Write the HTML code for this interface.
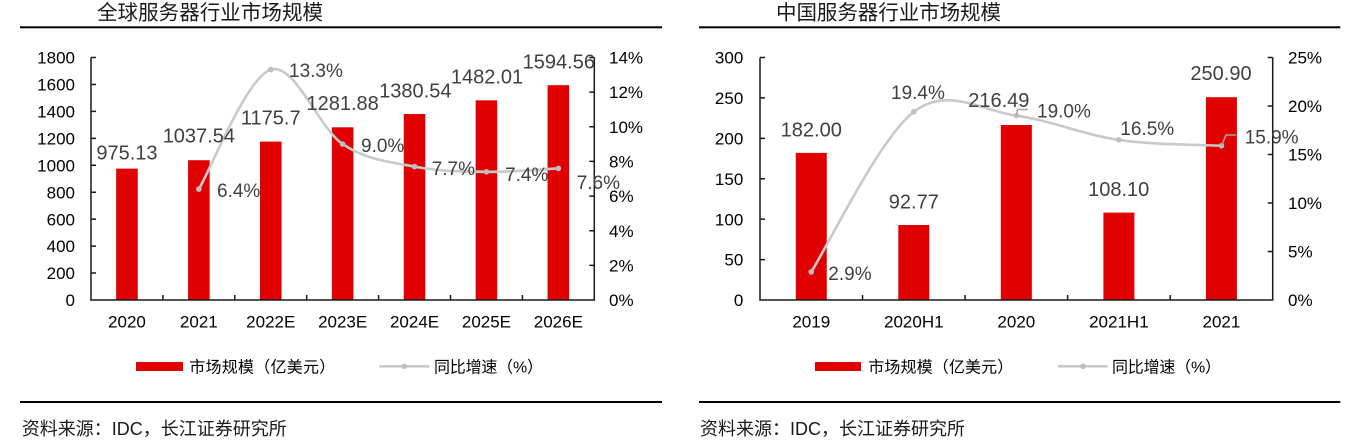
<!DOCTYPE html>
<html><head><meta charset="utf-8">
<style>
html,body{margin:0;padding:0;background:#fff;}
svg{display:block;}
text{font-family:"Liberation Sans","Noto Sans CJK SC",sans-serif;}
.ax{font-size:17px;fill:#000;}
.val{font-size:20px;fill:#404040;}
.pct{font-size:19px;fill:#404040;}
.cj{font-family:"Liberation Sans","Noto Sans CJK SC",sans-serif;text-spacing-trim:space-all;}
</style></head>
<body>
<svg width="1367" height="440" viewBox="0 0 1367 440" xmlns="http://www.w3.org/2000/svg">
<rect width="1367" height="440" fill="#fff"/>

<!-- ================= LEFT CHART ================= -->
<text x="97" y="19.6" font-size="20.5" fill="#1a1a1a" class="cj" textLength="226" lengthAdjust="spacing">全球服务器行业市场规模</text>
<rect x="20" y="26.3" width="642" height="2" fill="#000"/>

<!-- bars -->
<g fill="#E00000">
<rect x="116.15" y="168.63" width="21.6" height="131.37"/>
<rect x="188.05" y="160.22" width="21.6" height="139.78"/>
<rect x="259.95" y="141.61" width="21.6" height="158.39"/>
<rect x="331.85" y="127.30" width="21.6" height="172.70"/>
<rect x="403.75" y="114.01" width="21.6" height="185.99"/>
<rect x="475.65" y="100.34" width="21.6" height="199.66"/>
<rect x="547.55" y="85.17" width="21.6" height="214.83"/>
</g>

<!-- axes -->
<g stroke="#1a1a1a" stroke-width="1.5" fill="none">
<line x1="91" y1="57.5" x2="91" y2="300.5"/>
<line x1="594.3" y1="57.5" x2="594.3" y2="300.5"/>
<line x1="90.3" y1="300" x2="595" y2="300"/>
<path d="M91 273.06h5M91 246.11h5M91 219.17h5M91 192.22h5M91 165.28h5M91 138.33h5M91 111.39h5M91 84.44h5M91 57.5h5"/>
<path d="M589.3 265.36h5M589.3 230.71h5M589.3 196.07h5M589.3 161.43h5M589.3 126.79h5M589.3 92.14h5M589.3 57.5h5"/>
<path d="M162.9 295v5M234.8 295v5M306.7 295v5M378.6 295v5M450.5 295v5M522.4 295v5"/>
</g>

<!-- left axis labels -->
<g class="ax" text-anchor="end">
<text x="75" y="306.1">0</text>
<text x="75" y="279.2">200</text>
<text x="75" y="252.2">400</text>
<text x="75" y="225.3">600</text>
<text x="75" y="198.3">800</text>
<text x="75" y="171.4">1000</text>
<text x="75" y="144.4">1200</text>
<text x="75" y="117.5">1400</text>
<text x="75" y="90.5">1600</text>
<text x="75" y="63.6">1800</text>
</g>
<g class="ax">
<text x="609" y="306.1">0%</text>
<text x="609" y="271.5">2%</text>
<text x="609" y="236.8">4%</text>
<text x="609" y="202.2">6%</text>
<text x="609" y="167.5">8%</text>
<text x="609" y="132.9">10%</text>
<text x="609" y="98.2">12%</text>
<text x="609" y="63.6">14%</text>
</g>
<g class="ax" text-anchor="middle">
<text x="126.95" y="327.3">2020</text>
<text x="198.85" y="327.3">2021</text>
<text x="270.75" y="327.3">2022E</text>
<text x="342.65" y="327.3">2023E</text>
<text x="414.55" y="327.3">2024E</text>
<text x="486.45" y="327.3">2025E</text>
<text x="558.35" y="327.3">2026E</text>
</g>

<!-- line -->
<path d="M198.85 189.1 C210.83 169.18 246.78 77.1 270.75 69.6 C294.72 62.1 318.68 127.93 342.65 144.1 C366.62 160.27 390.58 161.98 414.55 166.6 C438.52 171.22 462.48 171.5 486.45 171.8 C510.42 172.1 546.37 168.97 558.35 168.4" fill="none" stroke="#C9C9C9" stroke-width="2.6"/>
<g fill="#BEBEBE">
<circle cx="198.85" cy="189.1" r="2.8"/>
<circle cx="270.75" cy="69.6" r="2.8"/>
<circle cx="342.65" cy="144.1" r="2.8"/>
<circle cx="414.55" cy="166.6" r="2.8"/>
<circle cx="486.45" cy="171.8" r="2.8"/>
<circle cx="558.35" cy="168.4" r="2.8"/>
</g>

<!-- value labels -->
<g class="val" text-anchor="middle">
<text x="126.95" y="159.3">975.13</text>
<text x="198.85" y="142.7">1037.54</text>
<text x="270.75" y="124.3">1175.7</text>
<text x="342.65" y="110">1281.88</text>
<text x="415.3" y="97.3">1380.54</text>
<text x="487" y="83.3">1482.01</text>
<text x="558.8" y="68.3">1594.56</text>
</g>
<g class="pct">
<text x="217" y="197">6.4%</text>
<text x="289" y="77">13.3%</text>
<text x="361" y="152">9.0%</text>
<text x="431.7" y="175">7.7%</text>
<text x="505" y="181">7.4%</text>
<text x="576.7" y="189">7.6%</text>
</g>

<!-- legend -->
<rect x="136" y="362" width="47" height="9" fill="#E00000"/>
<text x="189.3" y="372.3" font-size="16" fill="#000" class="cj" textLength="146" lengthAdjust="spacing">市场规模（亿美元）</text>
<line x1="379.3" y1="366.3" x2="429.3" y2="366.3" stroke="#C9C9C9" stroke-width="2.6"/>
<circle cx="404.3" cy="366.3" r="2.8" fill="#BEBEBE"/>
<text x="434" y="372.3" font-size="16" fill="#000" class="cj" textLength="109" lengthAdjust="spacing">同比增速（%）</text>

<rect x="20" y="401" width="642" height="2" fill="#000"/>
<text x="21.7" y="435" font-size="18" fill="#1a1a1a" class="cj" textLength="265" lengthAdjust="spacing">资料来源：IDC，长江证券研究所</text>

<!-- ================= RIGHT CHART ================= -->
<text x="776" y="19.6" font-size="20.5" fill="#1a1a1a" class="cj" textLength="225" lengthAdjust="spacing">中国服务器行业市场规模</text>
<rect x="699" y="26.3" width="641.3" height="2" fill="#000"/>

<g fill="#E00000">
<rect x="795.77" y="152.88" width="31" height="147.12"/>
<rect x="898.31" y="225.01" width="31" height="74.99"/>
<rect x="1000.85" y="125.0" width="31" height="175.0"/>
<rect x="1103.39" y="212.62" width="31" height="87.38"/>
<rect x="1205.93" y="97.19" width="31" height="202.81"/>
</g>

<g stroke="#1a1a1a" stroke-width="1.5" fill="none">
<line x1="760" y1="57.5" x2="760" y2="300.5"/>
<line x1="1272.7" y1="57.5" x2="1272.7" y2="300.5"/>
<line x1="759.3" y1="300" x2="1273.4" y2="300"/>
<path d="M760 259.58h5M760 219.17h5M760 178.75h5M760 138.33h5M760 97.92h5M760 57.5h5"/>
<path d="M1267.7 251.5h5M1267.7 203h5M1267.7 154.5h5M1267.7 106h5M1267.7 57.5h5"/>
<path d="M862.54 295v5M965.08 295v5M1067.62 295v5M1170.16 295v5"/>
</g>

<g class="ax" text-anchor="end">
<text x="743.3" y="306.1">0</text>
<text x="743.3" y="265.7">50</text>
<text x="743.3" y="225.3">100</text>
<text x="743.3" y="184.9">150</text>
<text x="743.3" y="144.4">200</text>
<text x="743.3" y="104">250</text>
<text x="743.3" y="63.6">300</text>
</g>
<g class="ax">
<text x="1288" y="306.1">0%</text>
<text x="1288" y="257.6">5%</text>
<text x="1288" y="209.1">10%</text>
<text x="1288" y="160.6">15%</text>
<text x="1288" y="112.1">20%</text>
<text x="1288" y="63.6">25%</text>
</g>
<g class="ax" text-anchor="middle">
<text x="811.27" y="327.3">2019</text>
<text x="913.81" y="327.3">2020H1</text>
<text x="1016.35" y="327.3">2020</text>
<text x="1118.89" y="327.3">2021H1</text>
<text x="1221.43" y="327.3">2021</text>
</g>

<path d="M811.27 271.87 C828.36 245.19 879.63 137.85 913.81 111.82 C947.99 85.79 982.17 111.01 1016.35 115.7 C1050.53 120.39 1084.71 134.94 1118.89 139.95 C1153.07 144.96 1204.34 144.8 1221.43 145.77" fill="none" stroke="#C9C9C9" stroke-width="2.6"/>
<g fill="#BEBEBE">
<circle cx="811.27" cy="271.87" r="2.8"/>
<circle cx="913.81" cy="111.82" r="2.8"/>
<circle cx="1016.35" cy="115.7" r="2.8"/>
<circle cx="1118.89" cy="139.95" r="2.8"/>
<circle cx="1221.43" cy="145.77" r="2.8"/>
</g>
<!-- leader lines -->
<polyline points="1016.5,115 1017.5,109.5 1028,109.5" fill="none" stroke="#A6A6A6" stroke-width="1.5"/>
<polyline points="1222,145 1226,135 1236,135" fill="none" stroke="#A6A6A6" stroke-width="1.5"/>

<g class="val" text-anchor="middle">
<text x="811.27" y="136.7">182.00</text>
<text x="913.8" y="208.3">92.77</text>
<text x="998.8" y="107.2">216.49</text>
<text x="1118.7" y="196">108.10</text>
<text x="1221" y="80">250.90</text>
</g>
<g class="pct">
<text x="828.3" y="280">2.9%</text>
<text x="891" y="99">19.4%</text>
<text x="1037" y="117.3">19.0%</text>
<text x="1120.3" y="135">16.5%</text>
<text x="1244.7" y="143.3">15.9%</text>
</g>

<rect x="815" y="362" width="46" height="9" fill="#E00000"/>
<text x="868.3" y="372.3" font-size="16" fill="#000" class="cj" textLength="145" lengthAdjust="spacing">市场规模（亿美元）</text>
<line x1="1058" y1="366.3" x2="1107.7" y2="366.3" stroke="#C9C9C9" stroke-width="2.6"/>
<circle cx="1083" cy="366.3" r="2.8" fill="#BEBEBE"/>
<text x="1112" y="372.3" font-size="16" fill="#000" class="cj" textLength="109" lengthAdjust="spacing">同比增速（%）</text>

<rect x="699" y="401" width="641.3" height="2" fill="#000"/>
<text x="700" y="435" font-size="18" fill="#1a1a1a" class="cj" textLength="265" lengthAdjust="spacing">资料来源：IDC，长江证券研究所</text>
</svg>
</body></html>
